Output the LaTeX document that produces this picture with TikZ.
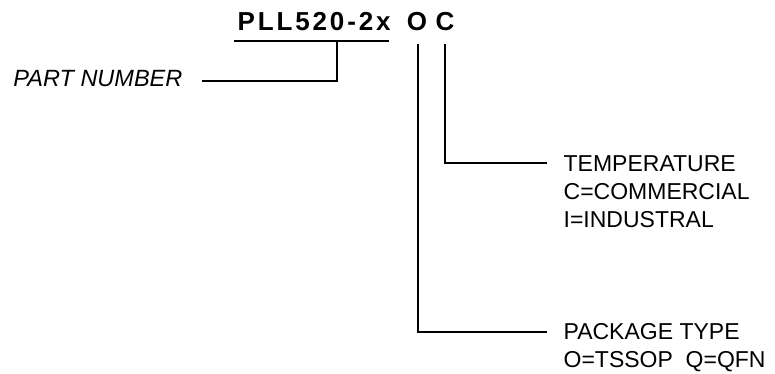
\documentclass[tikz,border=0pt]{standalone}
\usepackage{fontspec}
\setmainfont{Liberation Sans}
\newfontfamily\titlefont[LetterSpace=11]{Liberation Sans}
\usepackage{tikz}
\usetikzlibrary{positioning}

\begin{document}
\begin{tikzpicture}[%
	x=1pt, y=-1pt,
	line width=1.3pt,
	txt/.style={inner sep=0, font=\fontsize{23}{28}\selectfont, align=left},
	code/.style={inner sep=0, font=\titlefont\bfseries\fontsize{26}{30}\selectfont}
	]
	\useasboundingbox (0,0) rectangle (775,373);
	
	\node[code, anchor=base west] (pn) at (237,30) {PLL520-2x};
	
	\node[code, anchor=base] (o) at (417,30) {O};
	
	\node[code, anchor=base] (c) at (445,30) {C};
	
	\node[txt, anchor=base east, font=\fontsize{23.5}{28}\selectfont\itshape] (part) at (183,86) {PART NUMBER};
	
	\node[txt, anchor=base west] (temp) at (563,227) {TEMPERATURE\\C=COMMERCIAL\\I=INDUSTRAL};
	
	\node[txt, anchor=base west] (pkg) at (563,367) {PACKAGE TYPE\\O=TSSOP\ \ Q=QFN};
	
	\coordinate (ul1) at (234,41);
	\coordinate (ul2) at (389,41);
	\coordinate (ulm) at (337,41);
	\coordinate (pend) at (202,81);
	\coordinate (ctop) at (445,44);
	\coordinate (cend) at (547,163);
	\coordinate (otop) at (418,44);
	\coordinate (oend) at (547,332);
	
	\draw (ul1) -- (ul2);
	\draw (ulm) |- (pend);
	\draw (ctop) |- (cend);
	\draw (otop) |- (oend);
\end{tikzpicture}
\end{document}
